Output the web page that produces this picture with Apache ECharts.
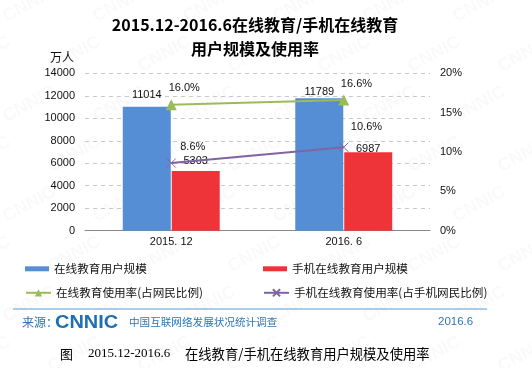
<!DOCTYPE html>
<html>
<head>
<meta charset="utf-8">
<script src="https://cdn.jsdelivr.net/npm/echarts@6/dist/echarts.min.js"></script>
<style>
html,body{margin:0;padding:0;background:#fff;}
#c{width:532px;height:368px;}
</style>
</head>
<body>
<div id="c"></div>
<script>
var categories = ['2015. 12', '2016. 6'];
var onlineUsers = [11014, 11789];
var mobileUsers = [5303, 6987];
var onlineRate = [16.0, 16.6];
var mobileRate = [8.6, 10.6];
var leftTicks = [0, 14000, 2000];
var rightTicks = [0, 20, 5];
var seriesNames = ['在线教育用户规模', '手机在线教育用户规模', '在线教育使用率(占网民比例)', '手机在线教育使用率(占手机网民比例)'];

var blueDist = [6, 1];
var redDist = [5, -2];
var greenOff = [[13, -16.5], [12.7, -16]];
var purpleOff = [[21.5, -16], [22.7, -20]];

var FONT = '"Liberation Sans", Arial, sans-serif';
var CJK = '"Noto Sans CJK SC", sans-serif';

function barData(vals, dists) {
  return vals.map(function (v, i) { return { value: v, label: { distance: dists[i] } }; });
}
function lineData(vals, offs) {
  return vals.map(function (v, i) { return { value: v, label: { offset: offs[i] } }; });
}

var watermark = [];
for (var r = -1; r < 8; r++) {
  for (var c = -1; c < 7; c++) {
    watermark.push({
      type: 'text', z: -10, silent: true,
      x: c * 90 + (r % 2) * 45, y: r * 50 + 10, rotation: 0.5,
      style: { text: 'CNNIC', fill: 'rgba(0,0,0,0.022)', font: 'bold 18px ' + FONT }
    });
  }
}

var chart = echarts.init(document.getElementById('c'), null, { renderer: 'canvas' });
chart.setOption({
  backgroundColor: '#fff',
  animation: false,
  title: [
    { text: '2015.12-2016.6在线教育/手机在线教育', left: 250, textAlign: 'center', top: 12,
      textStyle: { fontSize: 16, fontWeight: 'bold', color: '#000', fontFamily: CJK } },
    { text: '用户规模及使用率', left: 250, textAlign: 'center', top: 36,
      textStyle: { fontSize: 16, fontWeight: 'bold', color: '#000', fontFamily: CJK } }
  ],
  grid: { left: 85, right: 102, top: 73.3, bottom: 137.3, containLabel: false },
  legend: [
    { data: [seriesNames[0]], left: 20, top: 258, itemWidth: 24, itemHeight: 5, icon: 'rect',
      textStyle: { fontSize: 11.6, color: '#111', fontFamily: CJK } },
    { data: [seriesNames[1]], left: 258, top: 258, itemWidth: 24, itemHeight: 5, icon: 'rect',
      textStyle: { fontSize: 11.6, color: '#111', fontFamily: CJK } },
    { data: [seriesNames[2]], left: 20, top: 282, itemWidth: 25, itemHeight: 9,
      textStyle: { fontSize: 11.6, color: '#111', fontFamily: CJK } },
    { data: [seriesNames[3]], left: 258, top: 282, itemWidth: 25, itemHeight: 9,
      textStyle: { fontSize: 11.6, color: '#111', fontFamily: CJK } }
  ],
  xAxis: {
    type: 'category', data: categories, boundaryGap: true,
    axisLine: { lineStyle: { color: '#888', width: 1 } },
    axisTick: { inside: true, length: 4, lineStyle: { color: '#888' } },
    axisLabel: { color: '#111', fontSize: 11, fontFamily: FONT, margin: 6 }
  },
  yAxis: [
    { type: 'value', min: leftTicks[0], max: leftTicks[1], interval: leftTicks[2],
      axisLine: { show: false }, axisTick: { show: false },
      axisLabel: { color: '#111', fontSize: 11, fontFamily: FONT, margin: 10,
        formatter: function (v) { return String(v); } },
      splitLine: { lineStyle: { color: '#c8c8c8', type: [4, 4] } } },
    { type: 'value', position: 'right', min: rightTicks[0], max: rightTicks[1], interval: rightTicks[2],
      axisLine: { show: false }, axisTick: { show: false },
      axisLabel: { color: '#111', fontSize: 11, fontFamily: FONT, margin: 10, formatter: '{value}%' },
      splitLine: { show: false } }
  ],
  series: [
    { name: seriesNames[0], type: 'bar', barWidth: 48, barGap: '2%', data: barData(onlineUsers, blueDist),
      itemStyle: { color: '#558ED5' },
      label: { show: true, position: 'top', color: '#111', fontSize: 11, fontFamily: FONT } },
    { name: seriesNames[1], type: 'bar', barWidth: 48, data: barData(mobileUsers, redDist),
      itemStyle: { color: '#EE3439' },
      label: { show: true, position: 'top', color: '#111', fontSize: 11, fontFamily: FONT } },
    { name: seriesNames[2], type: 'line', yAxisIndex: 1, data: lineData(onlineRate, greenOff),
      symbol: 'triangle', symbolSize: 11, z: 5,
      lineStyle: { color: '#9BBB59', width: 2 }, itemStyle: { color: '#9BBB59' },
      label: { show: true, position: 'inside', color: '#111', fontSize: 11, fontFamily: FONT,
        formatter: function (p) { return p.value.toFixed(1) + '%'; } } },
    { name: seriesNames[3], type: 'line', yAxisIndex: 1, data: lineData(mobileRate, purpleOff),
      symbol: 'path://M0,0L10,10M10,0L0,10', symbolSize: 9, z: 5,
      lineStyle: { color: '#8064A2', width: 2 },
      itemStyle: { color: '#8064A2', borderColor: '#8064A2', borderWidth: 1 },
      label: { show: true, position: 'inside', color: '#111', fontSize: 11, fontFamily: FONT,
        formatter: function (p) { return p.value.toFixed(1) + '%'; } } }
  ],
  graphic: watermark.concat([
    { type: 'text', left: 50, top: 51, style: { text: '万人', fill: '#111', font: '12px ' + CJK } },
    { type: 'line', shape: { x1: 13, y1: 309, x2: 487, y2: 309 }, style: { stroke: '#5B9BD5', lineWidth: 1 } },
    { type: 'text', x: 22, y: 322, style: { text: '来源：', fill: '#2E75B6', font: '12px ' + CJK, verticalAlign: 'middle' } },
    { type: 'text', x: 55, y: 323, scaleX: 1.05, style: { text: 'CNNIC', fill: '#1F6FB5', font: 'bold 19px ' + FONT, verticalAlign: 'middle' } },
    { type: 'text', x: 129, y: 322, style: { text: '中国互联网络发展状况统计调查', fill: '#2E75B6', font: '10.6px ' + CJK, verticalAlign: 'middle' } },
    { type: 'text', x: 438, y: 322, style: { text: '2016.6', fill: '#2E75B6', font: '11.5px ' + FONT, verticalAlign: 'middle' } },
    { type: 'text', x: 60, y: 354, style: { text: '图', fill: '#000', font: '13px ' + CJK, verticalAlign: 'middle' } },
    { type: 'text', x: 88, y: 354, style: { text: '2015.12-2016.6', fill: '#000', font: '13px "Liberation Serif", serif', verticalAlign: 'middle' } },
    { type: 'text', x: 185, y: 354, style: { text: '在线教育/手机在线教育用户规模及使用率', fill: '#000', font: '13.3px ' + CJK, verticalAlign: 'middle' } }
  ])
});
</script>
</body>
</html>
